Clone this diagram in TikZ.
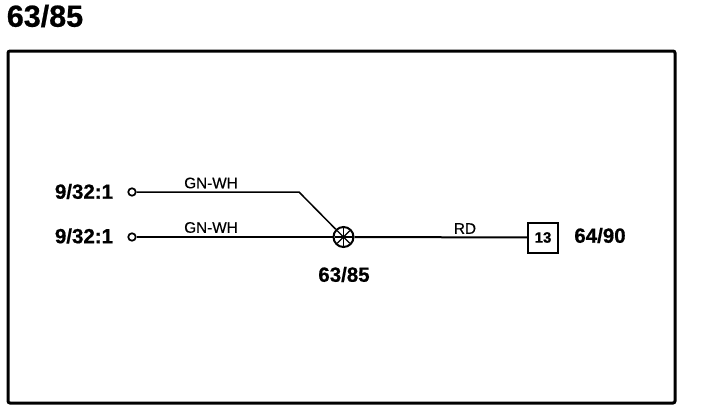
\documentclass[tikz,border=0pt]{standalone}
\usetikzlibrary{calc}
\usepackage{fontspec}
\setmainfont[BoldFeatures={FakeBold=0.7}]{Liberation Sans}
\newfontfamily\wirefont[FakeBold=0.3]{Liberation Sans}
\newcommand{\fsz}[1]{\fontsize{#1}{#1}\selectfont}
\begin{document}
\begin{tikzpicture}[x=1pt,y=-1pt,
  lbl/.style={inner sep=0pt,font=\fsz{20.5}\bfseries},
  wirelbl/.style={inner sep=0pt,font=\fsz{15.3}\wirefont},
  term/.style={circle,draw=black,line width=1.7pt,fill=white,minimum size=7.5pt,inner sep=0pt},
  wire/.style={draw=black,line width=1.6pt},
  frame/.style={draw=black,line width=3pt,rounded corners=2pt},
  pinbox/.style={draw=black,line width=2pt,fill=white,minimum width=30pt,minimum height=30pt,inner sep=0pt,font=\fsz{15}\bfseries},
  junc/.style={circle,draw=black,line width=2pt,fill=white,minimum size=20pt,inner sep=0pt}]
\useasboundingbox (0,0) rectangle (704,410);
\fill[white] (0,0) rectangle (704,410);
\node[inner sep=0pt,font=\fsz{30.5}\bfseries] (title) at (45,16) {63/85};
\coordinate (fa) at (8,51);
\coordinate (fb) at (675,403);
\draw[frame] (fa) rectangle (fb);
\node[term] (t1) at (132,192) {};
\node[term] (t2) at (132,237) {};
\node[junc] (j) at (343.5,237) {};
\node[pinbox] (b) at (543,237.5) {13};
\coordinate (bend) at (299,192);
\draw[wire,line width=1.5pt] (t1) -- (bend) -- (j.135);
\draw[wire,line width=2pt] (t2) -- (j);
\draw[wire,line width=2pt] (j) -- (b);
\foreach \a in {0,45,90,135}{
  \draw[black,line width=1.4pt] ($(j.center)+(\a:9)$) -- ($(j.center)+(\a+180:9)$);
}
\node[lbl] (l1) at (84,191.5) {9/32:1};
\node[lbl] (l2) at (84,236) {9/32:1};
\node[wirelbl] (g1) at (211,183) {GN-WH};
\node[wirelbl] (g2) at (211,227.5) {GN-WH};
\node[wirelbl] (r) at (465,228.5) {RD};
\node[lbl] (l3) at (344,274.5) {63/85};
\node[lbl] (l4) at (600,235.5) {64/90};
\end{tikzpicture}
\end{document}
